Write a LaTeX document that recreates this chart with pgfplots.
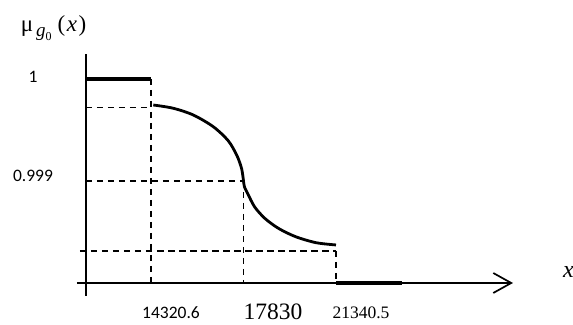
\documentclass[border=0pt]{standalone}
\usepackage{pgfplots}
\pgfplotsset{compat=1.18}
\usetikzlibrary{arrows.meta}
\usepackage{fontspec}
\setmainfont{Liberation Serif}
\newfontfamily\carlito{Carlito}
\begin{document}
\begin{tikzpicture}
\begin{axis}[
  name=ax,
  scale only axis,
  width=573pt, height=324pt,
  xmin=8590.8, xmax=30333.8,
  ymin=0.997598, ymax=1.0007745,
  hide axis, clip=false,
]
% axes
\addplot[line width=1.7pt, no markers] coordinates {(11854,1.000245) (11854,0.997873)};
\addplot[line width=1.7pt, no markers, -{Straight Barb[length=18pt,width=20pt,line width=1.7pt]}] coordinates {(11512.6,0.998) (28057,0.998)};
% dashed guides
\addplot[line width=1.3pt, no markers, dash pattern=on 6.5pt off 4.5pt] coordinates {(11854,0.999719) (14320.6,0.999719)};
\addplot[line width=1.3pt, no markers, dash pattern=on 6.5pt off 4.5pt] coordinates {(14320.6,1) (14320.6,0.998)};
\addplot[line width=1.3pt, no markers, dash pattern=on 6.5pt off 4.5pt] coordinates {(11854,0.999) (17830,0.999)};
\addplot[line width=1.3pt, no markers, dash pattern=on 6.5pt off 4.5pt] coordinates {(17830,0.999) (17830,0.998)};
\addplot[line width=1.3pt, no markers, dash pattern=on 6.5pt off 4.5pt] coordinates {(11626.4,0.998314) (21340.5,0.998314)};
\addplot[line width=1.3pt, no markers, dash pattern=on 6.5pt off 4.5pt] coordinates {(21340.5,0.998314) (21340.5,0.998)};
% thick constant pieces
\addplot[line width=4.5pt, no markers] coordinates {(11854,1) (14320.6,1)};
\addplot[line width=4.5pt, no markers] coordinates {(21340.5,0.998) (23845,0.998)};
% curve
\addplot[line width=2.8pt, no markers, smooth] coordinates {
 (14408,0.999745) (15167,0.999713) (15926,0.999647) (16685,0.999532)
 (17250,0.999395) (17580,0.999250) (17760,0.999120) (17830,0.999000)};
\addplot[line width=2.8pt, no markers, smooth] coordinates {
 (17830,0.999000) (17870,0.998940) (17986,0.998879) (18248,0.998748)
 (18639,0.998634) (19155,0.998536) (19808,0.998454) (20585,0.998395)
 (21340.5,0.998373)};
% labels
\node[inner sep=0pt, font=\carlito\fontsize{17.5}{17.5}\selectfont] at (axis cs:9843,1.0000196) {1};
\node[inner sep=0pt, font=\carlito\fontsize{17.5}{17.5}\selectfont] at (axis cs:9843,0.999049) {0.999};
\node[inner sep=0pt, font=\carlito\fontsize{17.5}{17.5}\selectfont] at (axis cs:15079.5,0.9977108) {14320.6};
\node[inner sep=0pt, font=\fontsize{23.5}{23.5}\selectfont] at (axis cs:18950,0.997716) {17830};
\node[inner sep=0pt, font=\fontsize{17.5}{17.5}\selectfont] at (axis cs:22289.3,0.997706) {21340.5};
\node[inner sep=0pt, anchor=base west, font=\fontsize{24}{24}\selectfont\itshape] at (axis cs:29954,0.998049) {x};
\node[inner sep=0pt, anchor=base west, font=\fontsize{23}{23}\selectfont] at (axis cs:9375,1.00047) {μ\hspace{3pt}\raisebox{-5.5pt}{\fontsize{19}{19}\selectfont\itshape g\raisebox{-3.5pt}{\fontsize{12}{12}\selectfont\upshape 0}}\hspace{6pt}(\hspace{1.5pt}\textit{x}\hspace{1.5pt})};
\end{axis}
\pgfresetboundingbox
\useasboundingbox (ax.south west) rectangle (ax.north east);
\end{tikzpicture}
\end{document}
